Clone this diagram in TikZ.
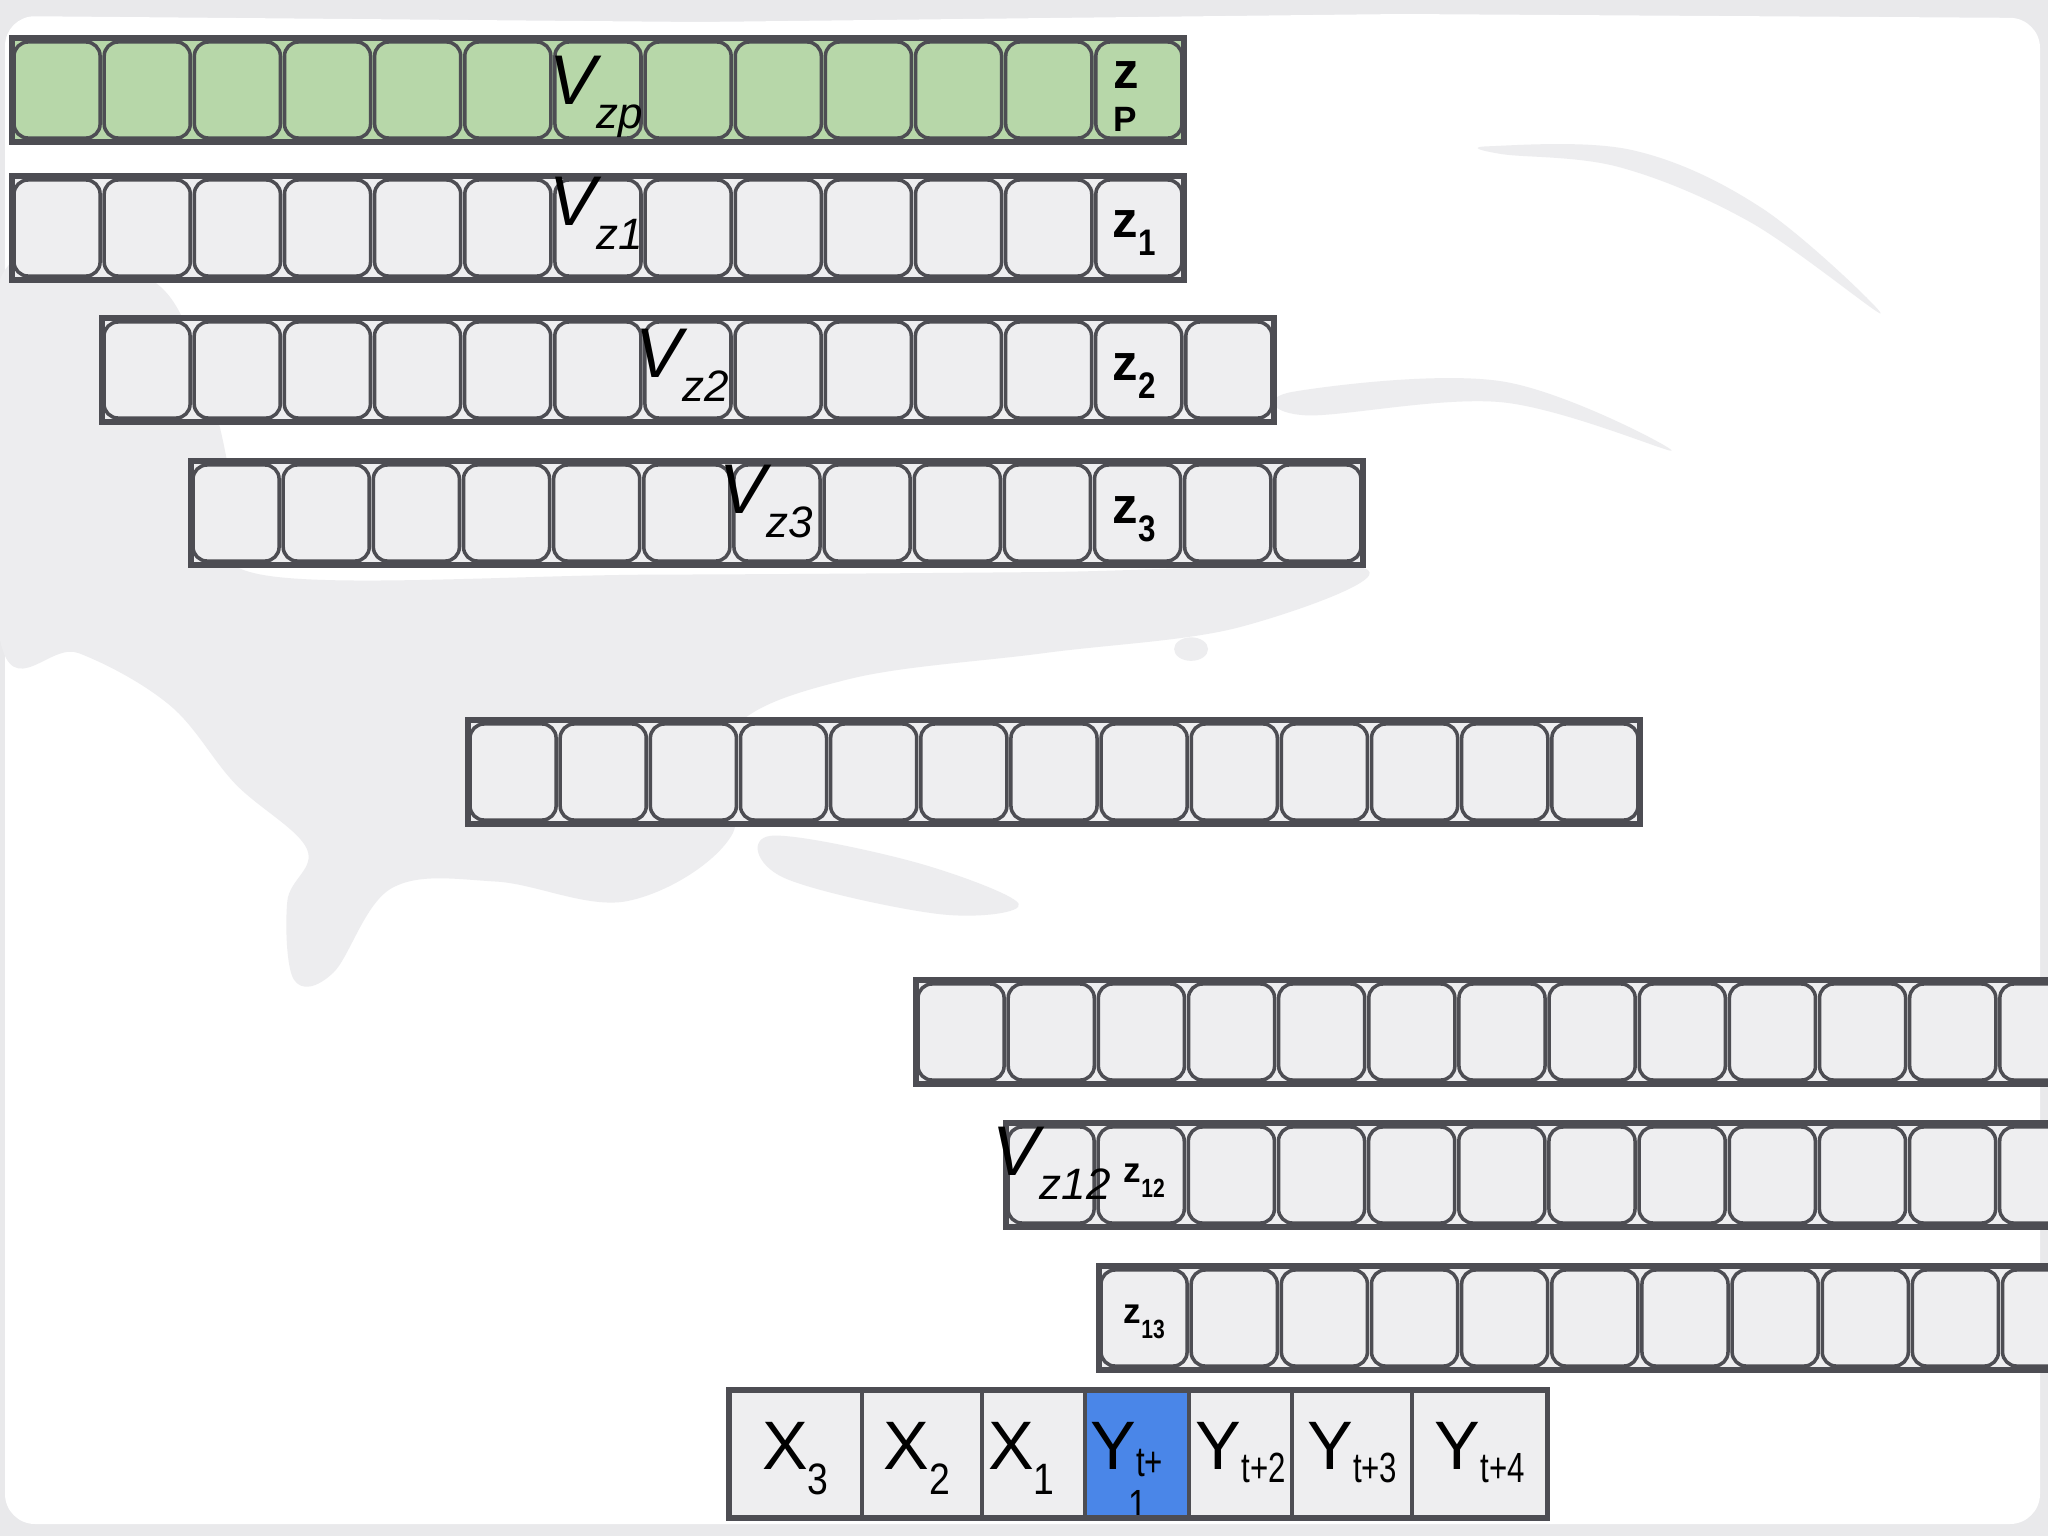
\documentclass[tikz,border=0pt]{standalone}
\usepackage{graphicx}
\usepackage{fontspec}
\setmainfont{Liberation Sans}
\usetikzlibrary{positioning}

\definecolor{framegray}{HTML}{4D4D53}
\definecolor{cellgray}{HTML}{EEEEF0}
\definecolor{cellgreen}{HTML}{B7D7A9}
\definecolor{cellblue}{HTML}{4A86E8}
\definecolor{washgray}{HTML}{EDEDEF}
\definecolor{edgegray}{HTML}{E9E9EB}

% one strip of 13 rounded cells: name, left, top, fill
\newcommand{\cellstrip}[4]{%
  \draw[stripframe, fill=#4] (#2,#3) rectangle ++(1172,104);
  \foreach \i in {1,...,13}
    \node[cellbox, fill=#4] (#1-\i) at ({#2+(\i-0.5)*90.15},{#3+52}) {};
}
\newcommand{\vname}[1]{{\fontsize{20}{22}\selectfont\itshape V\raisebox{-7pt}{\fontsize{12.5}{14}\selectfont #1}}}
\newcommand{\zname}[1]{{\fontsize{14.5}{16}\selectfont\bfseries z\raisebox{-5.3pt}{\fontsize{10.5}{12}\selectfont\scalebox{0.85}[1]{#1}}}}
\newcommand{\zsmall}[1]{{\fontsize{10}{12}\selectfont\bfseries z\raisebox{-4.3pt}{\fontsize{7.5}{9}\selectfont\scalebox{0.8}[1]{#1}}}}
\newcommand{\lowsub}[1]{\raisebox{-7pt}[0pt][0pt]{\fontsize{12.5}{14}\selectfont\scalebox{0.85}[1]{#1}}}
\newcommand{\ysub}[1]{\raisebox{-3.6pt}[0pt][0pt]{\fontsize{12}{14}\selectfont\scalebox{0.74}[1]{#1}}}
\newcommand{\padright}[1]{\rule{#1}{0pt}}

\begin{document}
\begin{tikzpicture}[x=0.01cm, y=-0.01cm,
    cellbox/.style={rectangle, rounded corners=0.14cm, draw=framegray, line width=1pt,
      minimum width=0.86cm, minimum height=0.96cm, inner sep=0pt, outer sep=0pt},
    stripframe/.style={draw=framegray, line width=1.5pt},
    slot/.style={rectangle, draw=framegray, line width=1.2pt, fill=cellgray,
      minimum height=1.28cm, inner sep=0pt, outer sep=0pt,
      text height=9pt, text depth=0pt, font=\fontsize{19.5}{22}\selectfont},
    tag/.style={inner sep=0pt, anchor=base west}]

\useasboundingbox (0,0) rectangle (2048,1536);
\clip (0,0) rectangle (2048,1536);

% paper and brush wash
\fill[edgegray] (0,0) rectangle (2048,1536);
\fill[white, rounded corners=0.3cm] (5,16) -- (700,22) -- (1400,14) -- (2040,18)
  -- (2040,1524) -- (5,1524) -- cycle;
\begin{scope}[scale=1.306]
  \fill[washgray] plot[smooth cycle, tension=0.6] coordinates {(0,214) (115,214) (160,300) (180,380)
    (200,440) (500,440) (800,438) (1044,435) (950,480) (800,500) (650,520) (560,560) (560,640)
    (480,690) (380,675) (300,680) (255,745) (225,750) (220,690) (235,650) (180,600) (130,540)
    (60,500) (0,490)};
  \fill[washgray] plot[smooth cycle, tension=0.6] coordinates {(1140,112) (1250,115) (1350,160)
    (1440,240) (1340,170) (1240,128) (1150,118)};
  \fill[washgray] plot[smooth cycle, tension=0.6] coordinates {(990,300) (1150,292) (1280,345)
    (1150,308) (1000,318)};
  \fill[washgray] plot[smooth cycle, tension=0.6] coordinates {(590,640) (700,660) (780,692)
    (720,700) (600,672)};
  \fill[washgray] (818,465) ellipse (12 and 9);
  \fill[washgray] (912,497) ellipse (13 and 9);
\end{scope}

% strips
\cellstrip{zp}{12}{38}{cellgreen}
\cellstrip{zone}{12}{176}{cellgray}
\cellstrip{ztwo}{102}{318}{cellgray}
\cellstrip{zthree}{191}{461}{cellgray}
\cellstrip{zmid}{468}{720}{cellgray}
\cellstrip{zlate}{916}{980}{cellgray}
\cellstrip{ztwelve}{1006}{1123}{cellgray}
\cellstrip{zthirteen}{1099}{1266}{cellgray}

% labels on the strips
\node[tag] (vzp) at (549,104) {\vname{zp}};
\node[tag] (vzone) at (549,225) {\vname{z1}};
\node[tag] (vztwo) at (635,377) {\vname{z2}};
\node[tag] (vzthree) at (719,513) {\vname{z3}};
\node[tag] (vztwelve) at (992,1175) {\vname{z12}};

\node[tag] (zptag) at (1113,88) {\fontsize{14.5}{16}\selectfont\bfseries
  \rlap{\raisebox{-12.5pt}{\fontsize{10}{12}\selectfont P}}z};
\node[tag] (zonetag) at (1112,237) {\zname{1}};
\node[tag] (ztwotag) at (1112,380) {\zname{2}};
\node[tag] (zthreetag) at (1112,523) {\zname{3}};
\node[tag] (ztwelvetag) at (1123,1182) {\zsmall{12}};
\node[tag] (zthirteentag) at (1123,1323) {\zsmall{13}};

% input and output window
\node[slot, minimum width=1.33cm] (x3) at (795.5,1454) {X\lowsub{3}};
\node[slot, minimum width=1.20cm, right=0pt of x3] (x2) {X\lowsub{2}\padright{3pt}};
\node[slot, minimum width=1.03cm, right=0pt of x2] (x1) {X\lowsub{1}\padright{7pt}};
\node[slot, minimum width=1.04cm, right=0pt of x1, fill=cellblue] (y1)
  {Y\raisebox{-2pt}[0pt][0pt]{\fontsize{12}{14}\selectfont\scalebox{0.74}[1]{t+}%
   \llap{\raisebox{-12.2pt}{\fontsize{12}{14}\selectfont\scalebox{0.8}[1]{1}}\hspace{4.6pt}}}\padright{6pt}};
\node[slot, minimum width=1.03cm, right=0pt of y1] (y2) {Y\ysub{t+2}};
\node[slot, minimum width=1.20cm, right=0pt of y2] (y3) {Y\ysub{t+3}};
\node[slot, minimum width=1.35cm, right=0pt of y3] (y4) {Y\ysub{t+4}};
\draw[stripframe] (x3.north west) rectangle (y4.south east);

\end{tikzpicture}
\end{document}
